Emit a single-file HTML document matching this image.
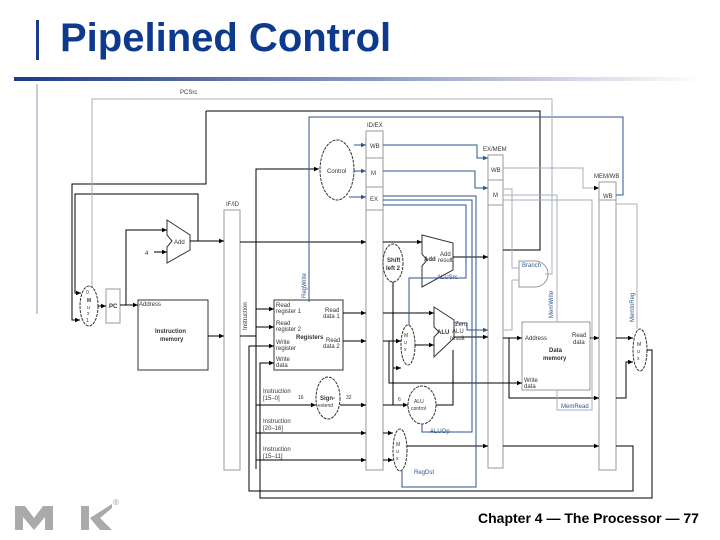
<!DOCTYPE html>
<html><head><meta charset="utf-8"><style>
html,body{margin:0;padding:0;background:#fff;width:720px;height:540px;overflow:hidden}
.t{position:absolute;left:60px;top:16px;font:bold 40px "Liberation Sans",sans-serif;color:#0d3a8c;letter-spacing:0px}
.f{position:absolute;left:478px;top:510px;font:bold 14px "Liberation Sans",sans-serif;color:#000}
</style></head><body>
<svg width="720" height="540" style="position:absolute;left:0;top:0" font-family="Liberation Sans,sans-serif">
<defs>
<linearGradient id="g" x1="0" x2="1"><stop offset="0" stop-color="#1a3a8c"/><stop offset="0.5" stop-color="#8a96c0"/><stop offset="1" stop-color="#fff"/></linearGradient>
<marker id="a" markerWidth="6" markerHeight="6" refX="5" refY="3" orient="auto"><path d="M0,0.8 L5,3 L0,5.2z" fill="#000"/></marker>
<marker id="b" markerWidth="6" markerHeight="6" refX="5" refY="3" orient="auto"><path d="M0,0.8 L5,3 L0,5.2z" fill="#2e568f"/></marker>
</defs>
<rect x="36" y="20" width="3" height="40" fill="#1a3a8c"/>
<rect x="36" y="84" width="2" height="230" fill="#c8cbe0"/>
<rect x="14" y="77" width="690" height="4" fill="url(#g)"/>
<g fill="none" stroke-width="1">
<rect x="224" y="210" width="16" height="260" stroke="#999" fill="#fff"/>
<rect x="366" y="131" width="17" height="339" stroke="#999" fill="#fff"/>
<line x1="366" y1="158" x2="383" y2="158" stroke="#999"/><line x1="366" y1="187" x2="383" y2="187" stroke="#999"/><line x1="366" y1="210" x2="383" y2="210" stroke="#999"/>
<rect x="488" y="155" width="15" height="313" stroke="#999" fill="#fff"/>
<line x1="488" y1="180" x2="503" y2="180" stroke="#999"/><line x1="488" y1="205" x2="503" y2="205" stroke="#999"/>
<rect x="599" y="182" width="17" height="288" stroke="#999" fill="#fff"/>
<line x1="599" y1="200" x2="616" y2="200" stroke="#999"/>
<rect x="106" y="289" width="14" height="34" stroke="#999"/>
<rect x="138" y="300" width="70" height="70" stroke="#333"/>
<rect x="274" y="300" width="69" height="70" stroke="#333"/>
<rect x="522" y="322" width="68" height="68" stroke="#999"/>
<ellipse cx="89" cy="306" rx="9" ry="20" stroke="#333" stroke-dasharray="3,1"/>
<ellipse cx="337" cy="170" rx="17" ry="30" stroke="#333" stroke-dasharray="3,1"/>
<ellipse cx="328" cy="398" rx="12" ry="21" stroke="#333" stroke-dasharray="3,1"/>
<ellipse cx="393" cy="263" rx="10" ry="19" stroke="#333" stroke-dasharray="3,1"/>
<ellipse cx="408" cy="345" rx="7" ry="20" stroke="#333" stroke-dasharray="3,1"/>
<ellipse cx="422" cy="405" rx="14" ry="19" stroke="#333" stroke-dasharray="3,1"/>
<ellipse cx="400" cy="450" rx="7" ry="21" stroke="#333" stroke-dasharray="3,1"/>
<ellipse cx="640" cy="350" rx="7" ry="21" stroke="#333" stroke-dasharray="3,1"/>
<path d="M167,220 L190,235 L190,250 L167,263 L167,247 L172,241 L167,235Z" stroke="#333"/>
<path d="M422,235 L453,243 L453,270 L422,287 L422,266 L427,260 L422,254Z" stroke="#333"/>
<path d="M434,307 L454,320 L454,338 L434,357 L434,337 L439,332 L434,327Z" stroke="#333"/>
<path d="M519,261 L535,261 A13,13 0 0 1 535,287 L519,287Z" stroke="#999"/>
<g stroke="#000">
<polyline points="206,111 540,111 540,250 503,250"/>
<polyline points="206,111 206,184 72,184 72,320 80,320" marker-end="url(#a)"/>
<polyline points="198,241 198,194 75,194 75,293 81,293" marker-end="url(#a)"/>
<polyline points="98,306 106,306" marker-end="url(#a)"/>
<polyline points="120,305 138,305" marker-end="url(#a)"/>
<polyline points="126,305 126,230 167,230" marker-end="url(#a)"/>
<polyline points="154,252 167,252" marker-end="url(#a)"/>
<polyline points="190,241 224,241" marker-end="url(#a)"/>
<polyline points="208,336 224,336" marker-end="url(#a)"/>
<polyline points="240,242 366,242" marker-end="url(#a)"/>
<polyline points="240,336 256,336"/>
<polyline points="256,469 256,169 319,169" marker-end="url(#a)"/>
<polyline points="256,309 274,309" marker-end="url(#a)"/>
<polyline points="256,327 274,327" marker-end="url(#a)"/>
<polyline points="256,405 316,405" marker-end="url(#a)"/>
<polyline points="340,405 366,405" marker-end="url(#a)"/>
<polyline points="256,433 366,433" marker-end="url(#a)"/>
<polyline points="256,460 366,460" marker-end="url(#a)"/>
<polyline points="343,313 366,313" marker-end="url(#a)"/>
<polyline points="343,341 366,341" marker-end="url(#a)"/>
<polyline points="383,242 422,242" marker-end="url(#a)"/>
<polyline points="383,313 434,313" marker-end="url(#a)"/>
<polyline points="383,341 401,341" marker-end="url(#a)"/>
<polyline points="389,341 389,383 522,383" marker-end="url(#a)"/>
<polyline points="383,405 408,405" marker-end="url(#a)"/>
<polyline points="393,282 393,405"/>
<polyline points="393,368 401,368" marker-end="url(#a)"/>
<polyline points="383,433 393,433" marker-end="url(#a)"/>
<polyline points="383,460 393,460" marker-end="url(#a)"/>
<polyline points="415,345 434,345" marker-end="url(#a)"/>
<polyline points="436,405 453,405 453,350"/>
<polyline points="453,257 488,257" marker-end="url(#a)"/>
<polyline points="454,337 488,337" marker-end="url(#a)"/>
<polyline points="407,446 488,446" marker-end="url(#a)"/>
<polyline points="503,446 599,446" marker-end="url(#a)"/>
<polyline points="503,338 522,338" marker-end="url(#a)"/>
<polyline points="509,338 509,398 599,398" marker-end="url(#a)"/>
<polyline points="590,338 599,338" marker-end="url(#a)"/>
<polyline points="616,338 633,338" marker-end="url(#a)"/>
<polyline points="616,398 626,398 626,362 633,362" marker-end="url(#a)"/>
<polyline points="616,446 633,446 633,491 249,491 249,346 274,346" marker-end="url(#a)"/>
<polyline points="647,350 652,350 652,498 260,498 260,363 274,363" marker-end="url(#a)"/>
</g>
<g stroke="#2e568f">
<polyline points="309,302 309,117 623,117 623,195 616,195"/>
<polyline points="354,145 366,145" marker-end="url(#b)"/>
<polyline points="354,171 366,171" marker-end="url(#b)"/>
<polyline points="349,197 366,197" marker-end="url(#b)"/>
<polyline points="383,145 477,145 477,158 488,158" marker-end="url(#b)"/>
<polyline points="383,171 475,171 475,188 488,188" marker-end="url(#b)"/>
<polyline points="383,196 476,196 476,487 402,487 402,471"/>
<polyline points="383,200 472,200 472,432 422,432 422,424"/>
<polyline points="383,205 466,205 466,278 409,278 409,325"/>
<polyline points="454,323 467,323 467,330 488,330" marker-end="url(#b)"/>
</g>
<g stroke="#a8b0bc">
<polyline points="92,287 92,99 552,99 552,274 545,274"/>
<polyline points="503,168 583,168 583,188 599,188" marker-end="url(#a)"/>
<polyline points="503,189 512,189 512,268 519,268"/>
<polyline points="503,195 557,195 557,322"/>
<polyline points="503,200 592,200 592,410 557,410 557,390"/>
<polyline points="616,204 637,204 637,329"/>
<polyline points="503,330 512,330 512,280 519,280"/>
</g>
</g>
<g font-size="6" fill="#333">
<text x="180" y="94">PCSrc</text>
<text x="367" y="127">ID/EX</text><text x="226" y="206">IF/ID</text>
<text x="483" y="151">EX/MEM</text><text x="594" y="178">MEM/WB</text>
<text x="370" y="148">WB</text><text x="371" y="175">M</text><text x="370" y="201">EX</text>
<text x="491" y="172">WB</text><text x="493" y="197">M</text><text x="603" y="198">WB</text>
<text x="327" y="173">Control</text>
<text x="174" y="244">Add</text><text x="145" y="255">4</text>
<text x="109" y="308" font-weight="bold">PC</text>
<text x="86" y="294" font-size="5">0</text><text x="87" y="302" font-size="5" font-weight="bold">M</text><text x="87" y="309" font-size="5">u</text><text x="87" y="315" font-size="5">x</text><text x="86" y="322" font-size="5">1</text>
<text x="139" y="306">Address</text>
<text x="155" y="333" font-weight="bold">Instruction</text><text x="160" y="341" font-weight="bold">memory</text>
<text x="276" y="307">Read</text><text x="276" y="313">register 1</text>
<text x="276" y="325">Read</text><text x="276" y="331">register 2</text>
<text x="276" y="344">Write</text><text x="276" y="350">register</text>
<text x="276" y="361">Write</text><text x="276" y="367">data</text>
<text x="325" y="312">Read</text><text x="323" y="318">data 1</text>
<text x="296" y="339" font-weight="bold">Registers</text><text x="326" y="342">Read</text><text x="323" y="348">data 2</text>
<text x="263" y="393">Instruction</text><text x="263" y="400">[15–0]</text>
<text x="263" y="423">Instruction</text><text x="263" y="430">[20–16]</text>
<text x="263" y="451">Instruction</text><text x="263" y="458">[15–11]</text>
<text x="298" y="399" font-size="5">16</text><text x="346" y="399" font-size="5">32</text>
<text x="320" y="400" font-weight="bold">Sign-</text><text x="318" y="407" font-size="5">extend</text>
<text x="387" y="262" font-weight="bold">Shift</text><text x="386" y="270" font-weight="bold">left 2</text>
<text x="424" y="261" font-weight="bold">Add</text><text x="440" y="256">Add</text><text x="438" y="262">result</text>
<text x="437" y="279" fill="#2e568f">ALUSrc</text>
<text x="437" y="334" font-weight="bold">ALU</text><text x="455" y="326">Zero</text><text x="452" y="333">ALU</text><text x="450" y="340">result</text>
<text x="414" y="403" font-size="5">ALU</text><text x="411" y="410" font-size="5">control</text>
<text x="430" y="433" fill="#2e568f">ALUOp</text><text x="414" y="474" fill="#2e568f">RegDst</text>
<text x="522" y="267" fill="#2e568f">Branch</text>
<text x="525" y="340">Address</text><text x="572" y="337">Read</text><text x="573" y="344">data</text>
<text x="549" y="352" font-weight="bold">Data</text><text x="543" y="360" font-weight="bold">memory</text>
<text x="524" y="382">Write</text><text x="524" y="388">data</text>
<text x="561" y="408" fill="#2e568f">MemRead</text>
<text x="398" y="401" font-size="5">6</text>
<text transform="translate(247,330) rotate(-90)">Instruction</text>
<text transform="translate(306,298) rotate(-90)" fill="#2e568f">RegWrite</text>
<text transform="translate(553,318) rotate(-90)" fill="#2e568f">MemWrite</text>
<text transform="translate(634,322) rotate(-90)" fill="#2e568f">MemtoReg</text>
<g font-size="5"><text x="404" y="337">M</text><text x="404" y="344">u</text><text x="404" y="351">x</text>
<text x="396" y="446">M</text><text x="396" y="453">u</text><text x="396" y="460">x</text>
<text x="637" y="346">M</text><text x="637" y="353">u</text><text x="637" y="360">x</text></g>
</g>
<g fill="#aaa">
<path d="M15,506 L25,506 L34,518 L43,506 L53,506 L53,530 L45,530 L45,517 L34,530 L23,517 L23,530 L15,530Z"/>
<rect x="81" y="506" width="8" height="24"/>
<path d="M90,518 L112,504 L112,508 L100,518 L112,530 L100,530Z"/>
</g>
<text x="113" y="505" font-size="8" fill="#999">®</text>
</svg>
<div class="t">Pipelined Control</div>
<div class="f">Chapter 4 — The Processor — 77</div>
</body></html>
